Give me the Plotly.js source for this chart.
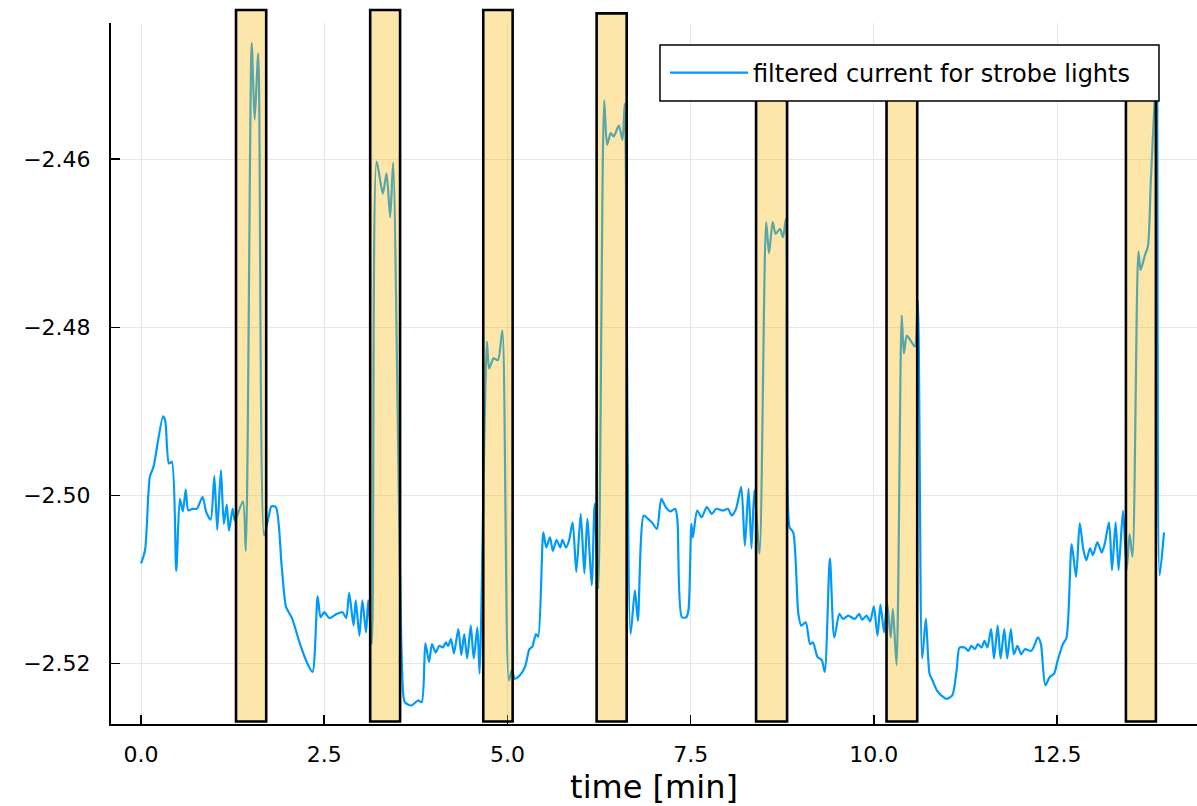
<!DOCTYPE html>
<html>
<head>
<meta charset="utf-8">
<script src="https://cdn.plot.ly/plotly-3.0.1.min.js"></script>
<style>html,body{margin:0;padding:0;background:#fff;}#chart{width:1197px;height:806px;}</style>
</head>
<body>
<div id="chart"></div>
<script>
// time in minutes
const timeMin = [0.00,0.055,0.12,0.17,0.30,0.33,0.38,0.42,0.48,0.53,0.57,0.61,0.645,0.70,0.76,0.84,0.89,0.95,1.00,1.04,1.09,1.13,1.17,1.20,1.25,1.28,1.39,1.43,1.51,1.55,1.60,1.68,1.74,1.78,1.84,1.92,1.98,2.06,2.17,2.27,2.34,2.41,2.45,2.50,2.57,2.67,2.75,2.80,2.84,2.90,2.93,2.98,3.02,3.07,3.10,3.15,3.215,3.30,3.35,3.40,3.44,3.56,3.60,3.69,3.78,3.83,3.88,3.93,3.97,4.02,4.07,4.12,4.16,4.19,4.23,4.27,4.33,4.37,4.41,4.45,4.50,4.54,4.59,4.62,4.72,4.75,4.81,4.87,4.93,5.02,5.06,5.10,5.17,5.24,5.30,5.34,5.39,5.42,5.49,5.53,5.58,5.62,5.67,5.72,5.75,5.80,5.84,5.89,5.94,6.00,6.05,6.09,6.15,6.19,6.24,6.32,6.36,6.41,6.45,6.52,6.57,6.60,6.68,6.74,6.78,6.86,6.92,6.98,7.04,7.10,7.16,7.22,7.29,7.32,7.38,7.44,7.47,7.51,7.53,7.59,7.65,7.72,7.79,7.85,7.94,8.01,8.06,8.12,8.19,8.24,8.29,8.33,8.37,8.44,8.53,8.57,8.62,8.66,8.72,8.76,8.80,8.85,8.90,8.97,9.01,9.07,9.13,9.17,9.23,9.29,9.33,9.40,9.46,9.53,9.58,9.65,9.74,9.80,9.84,9.90,9.95,10.00,10.05,10.09,10.14,10.18,10.23,10.26,10.31,10.38,10.41,10.45,10.51,10.56,10.60,10.66,10.71,10.76,10.81,10.86,10.92,10.99,11.07,11.13,11.17,11.24,11.29,11.33,11.38,11.42,11.47,11.51,11.55,11.60,11.64,11.69,11.73,11.78,11.82,11.87,11.91,11.96,12.01,12.06,12.15,12.24,12.28,12.34,12.40,12.46,12.51,12.58,12.63,12.70,12.76,12.81,12.86,12.90,12.95,12.99,13.05,13.11,13.15,13.21,13.25,13.30,13.34,13.40,13.45,13.49,13.53,13.61,13.64,13.70,13.74,13.78,13.83,13.86,13.90,13.96];

// filtered current
const current = [-2.5081,-2.5065,-2.4978,-2.4966,-2.4906,-2.4911,-2.4962,-2.4960,-2.5090,-2.5004,-2.5019,-2.4993,-2.5018,-2.5016,-2.5016,-2.5002,-2.5020,-2.5029,-2.4977,-2.5041,-2.4970,-2.5034,-2.5011,-2.5042,-2.5016,-2.5030,-2.5007,-2.5066,-2.4462,-2.4553,-2.4474,-2.5048,-2.5026,-2.5013,-2.5014,-2.5085,-2.5133,-2.5146,-2.5177,-2.5200,-2.5210,-2.5120,-2.5145,-2.5139,-2.5146,-2.5141,-2.5139,-2.5146,-2.5116,-2.5155,-2.5125,-2.5167,-2.5125,-2.5163,-2.5125,-2.5177,-2.4603,-2.4641,-2.4617,-2.4669,-2.4604,-2.5200,-2.5246,-2.5250,-2.5244,-2.5246,-2.5176,-2.5198,-2.5177,-2.5187,-2.5179,-2.5181,-2.5175,-2.5179,-2.5171,-2.5188,-2.5159,-2.5190,-2.5165,-2.5194,-2.5155,-2.5194,-2.5157,-2.5212,-2.4817,-2.4849,-2.4837,-2.4839,-2.4804,-2.5220,-2.5208,-2.5218,-2.5214,-2.5204,-2.5183,-2.5180,-2.5165,-2.5168,-2.5044,-2.5062,-2.5050,-2.5066,-2.5053,-2.5062,-2.5053,-2.5062,-2.5054,-2.5032,-2.5091,-2.5022,-2.5093,-2.5028,-2.5107,-2.5010,-2.5111,-2.4530,-2.4583,-2.4569,-2.4573,-2.4560,-2.4577,-2.4534,-2.5165,-2.5113,-2.5149,-2.5024,-2.5028,-2.5033,-2.5040,-2.5004,-2.5014,-2.5019,-2.5016,-2.5030,-2.5145,-2.5145,-2.5137,-2.5034,-2.5050,-2.5018,-2.5026,-2.5014,-2.5022,-2.5016,-2.5018,-2.5016,-2.5024,-2.5016,-2.4990,-2.5060,-2.4992,-2.5063,-2.4994,-2.5069,-2.4675,-2.4712,-2.4675,-2.4689,-2.4683,-2.4693,-2.4671,-2.5038,-2.5044,-2.5141,-2.5155,-2.5151,-2.5177,-2.5175,-2.5192,-2.5196,-2.5210,-2.5075,-2.5169,-2.5141,-2.5147,-2.5143,-2.5147,-2.5141,-2.5148,-2.5143,-2.5150,-2.5132,-2.5167,-2.5130,-2.5163,-2.5127,-2.5169,-2.5135,-2.5202,-2.4786,-2.4831,-2.4810,-2.4817,-2.4823,-2.4768,-2.5194,-2.5147,-2.5212,-2.5222,-2.5232,-2.5238,-2.5242,-2.5238,-2.5208,-2.5181,-2.5181,-2.5185,-2.5179,-2.5183,-2.5177,-2.5181,-2.5173,-2.5181,-2.5159,-2.5194,-2.5155,-2.5194,-2.5159,-2.5194,-2.5159,-2.5189,-2.5179,-2.5189,-2.5183,-2.5185,-2.5169,-2.5177,-2.5226,-2.5216,-2.5212,-2.5196,-2.5177,-2.5169,-2.5058,-2.5097,-2.5033,-2.5065,-2.5077,-2.5063,-2.5071,-2.5056,-2.5068,-2.5058,-2.5032,-2.5089,-2.5032,-2.5089,-2.5018,-2.5089,-2.5046,-2.5073,-2.4710,-2.4732,-2.4714,-2.4704,-2.4625,-2.4534,-2.4470,-2.5095,-2.5044];

// strobe-light intervals (minutes)
const strobeStart = [1.296, 3.127, 4.670, 6.217, 8.393, 10.173, 13.440];
const strobeEnd   = [1.708, 3.535, 5.071, 6.627, 8.816, 10.592, 13.849];

// tick labels
const xTickVals = [0, 2.5, 5, 7.5, 10, 12.5];
const xTickText = ["0.0", "2.5", "5.0", "7.5", "10.0", "12.5"];
const yTickVals = [-2.52, -2.50, -2.48, -2.46];
const yTickText = ["\u22122.52", "\u22122.50", "\u22122.48", "\u22122.46"];

// box top positions (paper units; style only)
const boxTopPaper = [1.0186, 1.0186, 1.0186, 1.0138, 0.93, 0.93, 0.93];
const boxBottomPaper = 0.0036;

const shapes = strobeStart.map((s, i) => ({
  type: 'rect', xref: 'x', yref: 'paper',
  x0: s, x1: strobeEnd[i], y0: boxBottomPaper, y1: boxTopPaper[i],
  fillcolor: 'rgba(247,186,20,0.36)',
  line: {color: '#000000', width: 2.6},
  layer: 'above'
}));
// legend frame (drawn as a shape so it can match the reference box size)
shapes.push({
  type: 'rect', xref: 'paper', yref: 'paper',
  x0: 0.5055, x1: 0.965, y0: 0.8887, y1: 0.9686,
  fillcolor: '#ffffff', line: {color: '#000000', width: 1.5}, layer: 'above'
});

const trace = {
  x: timeMin, y: current, type: 'scatter', mode: 'lines',
  name: 'filtered current for strobe lights',
  line: {color: '#009AFA', width: 2.2, shape: 'spline', smoothing: 0.7}
};

const font = 'DejaVu Sans, sans-serif';
const layout = {
  width: 1197, height: 806,
  margin: {l: 111, r: 0, t: 23, b: 82, pad: 0},
  paper_bgcolor: '#fff', plot_bgcolor: '#fff',
  showlegend: true,
  font: {family: font, color: '#000'},
  xaxis: {
    range: [-0.41, 14.41],
    tickvals: xTickVals, ticktext: xTickText,
    ticks: 'inside', ticklen: 9, tickwidth: 1.5, tickcolor: '#000',
    showline: true, linecolor: '#000', linewidth: 2,
    showgrid: true, gridcolor: '#e6e6e6', gridwidth: 1,
    zeroline: false, mirror: false,
    tickfont: {family: font, size: 22, color: '#000'},
    ticklabelstandoff: 10,
    title: {text: 'time [min]', font: {family: font, size: 32, color: '#000'}, standoff: 15}
  },
  yaxis: {
    range: [-2.5272, -2.4438],
    tickvals: yTickVals, ticktext: yTickText,
    ticks: 'inside', ticklen: 9, tickwidth: 1.5, tickcolor: '#000',
    showline: true, linecolor: '#000', linewidth: 2,
    showgrid: true, gridcolor: '#e6e6e6', gridwidth: 1,
    zeroline: false, mirror: false,
    tickfont: {family: font, size: 22, color: '#000'},
    ticklabelstandoff: 14
  },
  legend: {
    x: 0.5101, xanchor: 'left', y: 0.9285, yanchor: 'middle',
    bgcolor: 'rgba(0,0,0,0)', borderwidth: 0,
    itemwidth: 78,
    font: {family: font, size: 24, color: '#000'}
  },
  shapes: shapes
};

Plotly.newPlot('chart', [trace], layout, {staticPlot: true, displayModeBar: false});
</script>
</body>
</html>
